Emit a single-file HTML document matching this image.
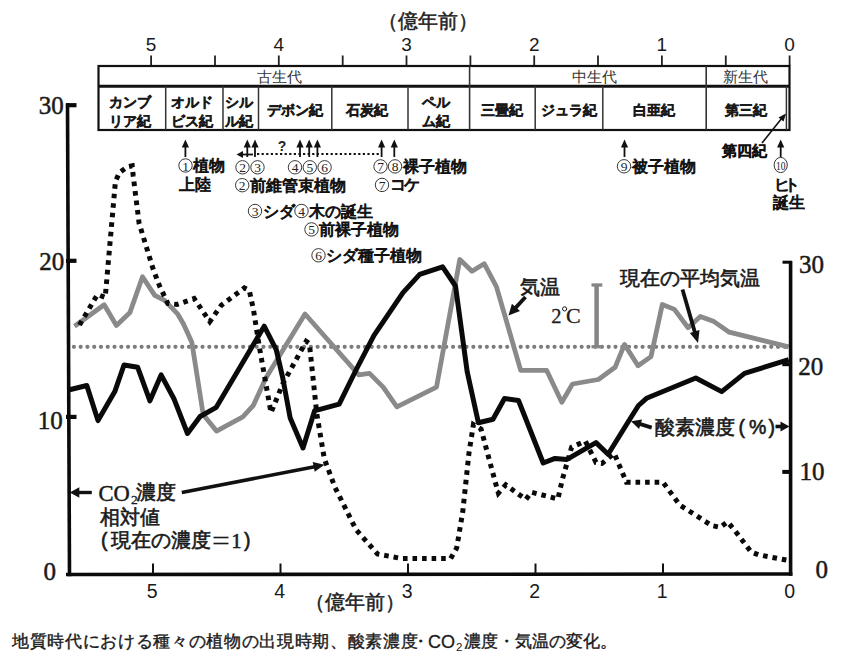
<!DOCTYPE html>
<html><head><meta charset="utf-8"><style>
html,body{margin:0;padding:0;background:#fff;width:852px;height:657px;overflow:hidden}
svg{display:block}
</style></head><body>
<svg width="852" height="657" viewBox="0 0 852 657">
<rect width="852" height="657" fill="#fff"/>
<text x="427.5" y="20.5" font-family="'Liberation Sans',sans-serif" font-size="19.8" text-anchor="middle" dominant-baseline="central" fill="#222" stroke="#222" stroke-width="0.5">（億年前）</text>
<text x="789.6" y="51" font-family="'Liberation Sans',sans-serif" font-size="19" text-anchor="middle" fill="#1a1a1a">0</text>
<text x="661.9" y="51" font-family="'Liberation Sans',sans-serif" font-size="19" text-anchor="middle" fill="#1a1a1a">1</text>
<text x="534.2" y="51" font-family="'Liberation Sans',sans-serif" font-size="19" text-anchor="middle" fill="#1a1a1a">2</text>
<text x="406.5" y="51" font-family="'Liberation Sans',sans-serif" font-size="19" text-anchor="middle" fill="#1a1a1a">3</text>
<text x="278.8" y="51" font-family="'Liberation Sans',sans-serif" font-size="19" text-anchor="middle" fill="#1a1a1a">4</text>
<text x="151.1" y="51" font-family="'Liberation Sans',sans-serif" font-size="19" text-anchor="middle" fill="#1a1a1a">5</text>
<line x1="789.6" y1="55.5" x2="789.6" y2="66" stroke="#222" stroke-width="1.8"/>
<line x1="725.8" y1="55.5" x2="725.8" y2="66" stroke="#222" stroke-width="1.8"/>
<line x1="661.9" y1="55.5" x2="661.9" y2="66" stroke="#222" stroke-width="1.8"/>
<line x1="598.0" y1="55.5" x2="598.0" y2="66" stroke="#222" stroke-width="1.8"/>
<line x1="534.2" y1="55.5" x2="534.2" y2="66" stroke="#222" stroke-width="1.8"/>
<line x1="470.4" y1="55.5" x2="470.4" y2="66" stroke="#222" stroke-width="1.8"/>
<line x1="406.5" y1="55.5" x2="406.5" y2="66" stroke="#222" stroke-width="1.8"/>
<line x1="342.7" y1="55.5" x2="342.7" y2="66" stroke="#222" stroke-width="1.8"/>
<line x1="278.8" y1="55.5" x2="278.8" y2="66" stroke="#222" stroke-width="1.8"/>
<line x1="215.0" y1="55.5" x2="215.0" y2="66" stroke="#222" stroke-width="1.8"/>
<line x1="151.1" y1="55.5" x2="151.1" y2="66" stroke="#222" stroke-width="1.8"/>
<rect x="98.5" y="66" width="691" height="64" fill="none" stroke="#111" stroke-width="2.2"/>
<line x1="98" y1="86.2" x2="790" y2="86.2" stroke="#111" stroke-width="3"/>
<line x1="469.6" y1="66" x2="469.6" y2="130" stroke="#333" stroke-width="1.6"/>
<line x1="706.2" y1="66" x2="706.2" y2="130" stroke="#333" stroke-width="1.6"/>
<line x1="165.7" y1="86" x2="165.7" y2="130" stroke="#333" stroke-width="1.5"/>
<line x1="223" y1="86" x2="223" y2="130" stroke="#333" stroke-width="1.5"/>
<line x1="258.5" y1="86" x2="258.5" y2="130" stroke="#333" stroke-width="1.5"/>
<line x1="331.8" y1="86" x2="331.8" y2="130" stroke="#333" stroke-width="1.5"/>
<line x1="408" y1="86" x2="408" y2="130" stroke="#333" stroke-width="1.5"/>
<line x1="535.2" y1="86" x2="535.2" y2="130" stroke="#333" stroke-width="1.5"/>
<line x1="602.8" y1="86" x2="602.8" y2="130" stroke="#333" stroke-width="1.5"/>
<line x1="786.4" y1="86" x2="786.4" y2="130" stroke="#333" stroke-width="1.5"/>
<text x="279" y="76.8" font-family="'Liberation Sans',sans-serif" font-size="15" text-anchor="middle" dominant-baseline="central" fill="#333">古生代</text>
<text x="594" y="76.8" font-family="'Liberation Sans',sans-serif" font-size="15" text-anchor="middle" dominant-baseline="central" fill="#333">中生代</text>
<text x="745.6" y="76.8" font-family="'Liberation Sans',sans-serif" font-size="15" text-anchor="middle" dominant-baseline="central" fill="#333">新生代</text>
<text x="130.3" y="102.5" font-family="'Liberation Sans',sans-serif" font-size="13.5" text-anchor="middle" dominant-baseline="central" fill="#1a1a1a" stroke="#1a1a1a" stroke-width="1.1">カンブ</text>
<text x="130.3" y="121.5" font-family="'Liberation Sans',sans-serif" font-size="13.5" text-anchor="middle" dominant-baseline="central" fill="#1a1a1a" stroke="#1a1a1a" stroke-width="1.1">リア紀</text>
<text x="191.6" y="102.5" font-family="'Liberation Sans',sans-serif" font-size="13.5" text-anchor="middle" dominant-baseline="central" fill="#1a1a1a" stroke="#1a1a1a" stroke-width="1.1">オルド</text>
<text x="191.6" y="121.5" font-family="'Liberation Sans',sans-serif" font-size="13.5" text-anchor="middle" dominant-baseline="central" fill="#1a1a1a" stroke="#1a1a1a" stroke-width="1.1">ビス紀</text>
<text x="239.2" y="102.5" font-family="'Liberation Sans',sans-serif" font-size="13.5" text-anchor="middle" dominant-baseline="central" fill="#1a1a1a" stroke="#1a1a1a" stroke-width="1.1">シル</text>
<text x="239.2" y="121.5" font-family="'Liberation Sans',sans-serif" font-size="13.5" text-anchor="middle" dominant-baseline="central" fill="#1a1a1a" stroke="#1a1a1a" stroke-width="1.1">ル紀</text>
<text x="435.5" y="102.5" font-family="'Liberation Sans',sans-serif" font-size="13.5" text-anchor="middle" dominant-baseline="central" fill="#1a1a1a" stroke="#1a1a1a" stroke-width="1.1">ペル</text>
<text x="435.5" y="121.5" font-family="'Liberation Sans',sans-serif" font-size="13.5" text-anchor="middle" dominant-baseline="central" fill="#1a1a1a" stroke="#1a1a1a" stroke-width="1.1">ム紀</text>
<text x="295" y="110.3" font-family="'Liberation Sans',sans-serif" font-size="14" text-anchor="middle" dominant-baseline="central" fill="#1a1a1a" stroke="#1a1a1a" stroke-width="1.1">デボン紀</text>
<text x="366.5" y="110.3" font-family="'Liberation Sans',sans-serif" font-size="14" text-anchor="middle" dominant-baseline="central" fill="#1a1a1a" stroke="#1a1a1a" stroke-width="1.1">石炭紀</text>
<text x="502" y="110.3" font-family="'Liberation Sans',sans-serif" font-size="14" text-anchor="middle" dominant-baseline="central" fill="#1a1a1a" stroke="#1a1a1a" stroke-width="1.1">三畳紀</text>
<text x="569" y="110.3" font-family="'Liberation Sans',sans-serif" font-size="14" text-anchor="middle" dominant-baseline="central" fill="#1a1a1a" stroke="#1a1a1a" stroke-width="1.1">ジュラ紀</text>
<text x="654.4" y="110.3" font-family="'Liberation Sans',sans-serif" font-size="14" text-anchor="middle" dominant-baseline="central" fill="#1a1a1a" stroke="#1a1a1a" stroke-width="1.1">白亜紀</text>
<text x="746" y="110.3" font-family="'Liberation Sans',sans-serif" font-size="14" text-anchor="middle" dominant-baseline="central" fill="#1a1a1a" stroke="#1a1a1a" stroke-width="1.1">第三紀</text>
<line x1="185.4" y1="157" x2="185.4" y2="144.5" stroke="#111" stroke-width="1.8"/>
<path d="M181.8,147.5 L185.4,139.5 L189.0,147.5 Z" fill="#111"/>
<line x1="247.3" y1="157" x2="247.3" y2="144.5" stroke="#111" stroke-width="1.8"/>
<path d="M243.70000000000002,147.5 L247.3,139.5 L250.9,147.5 Z" fill="#111"/>
<line x1="255" y1="157" x2="255" y2="144.5" stroke="#111" stroke-width="1.8"/>
<path d="M251.4,147.5 L255,139.5 L258.6,147.5 Z" fill="#111"/>
<line x1="300" y1="157" x2="300" y2="144.5" stroke="#111" stroke-width="1.8"/>
<path d="M296.4,147.5 L300,139.5 L303.6,147.5 Z" fill="#111"/>
<line x1="309.2" y1="157" x2="309.2" y2="144.5" stroke="#111" stroke-width="1.8"/>
<path d="M305.59999999999997,147.5 L309.2,139.5 L312.8,147.5 Z" fill="#111"/>
<line x1="317.4" y1="157" x2="317.4" y2="144.5" stroke="#111" stroke-width="1.8"/>
<path d="M313.79999999999995,147.5 L317.4,139.5 L321.0,147.5 Z" fill="#111"/>
<line x1="381.6" y1="157" x2="381.6" y2="144.5" stroke="#111" stroke-width="1.8"/>
<path d="M378.0,147.5 L381.6,139.5 L385.20000000000005,147.5 Z" fill="#111"/>
<line x1="394.3" y1="157" x2="394.3" y2="144.5" stroke="#111" stroke-width="1.8"/>
<path d="M390.7,147.5 L394.3,139.5 L397.90000000000003,147.5 Z" fill="#111"/>
<line x1="624.5" y1="157" x2="624.5" y2="144.5" stroke="#111" stroke-width="1.8"/>
<path d="M620.9,147.5 L624.5,139.5 L628.1,147.5 Z" fill="#111"/>
<line x1="780.7" y1="157" x2="780.7" y2="144.5" stroke="#111" stroke-width="1.8"/>
<path d="M777.1,147.5 L780.7,139.5 L784.3000000000001,147.5 Z" fill="#111"/>
<line x1="240" y1="154.5" x2="253" y2="154.5" stroke="#111" stroke-width="1.8"/>
<path d="M236.5,154.5 L243,151 L243,158 Z" fill="#111"/>
<line x1="257" y1="154" x2="381" y2="154" stroke="#111" stroke-width="2.2" stroke-dasharray="2.2 2.4"/>
<text x="282" y="146" font-family="'Liberation Sans',sans-serif" font-size="14" font-weight="bold" text-anchor="middle" dominant-baseline="central" fill="#222">?</text>
<circle cx="185.5" cy="165.5" r="6.7" fill="none" stroke="#222" stroke-width="0.9"/>
<text x="185.5" y="166.0" font-family="'Liberation Serif',serif" font-size="13.5" text-anchor="middle" dominant-baseline="central" fill="#222">1</text>
<text x="193" y="165.5" font-family="'Liberation Sans',sans-serif" font-size="15.5" dominant-baseline="central" fill="#111" stroke="#111" stroke-width="0.9">植物</text>
<text x="178.6" y="184.5" font-family="'Liberation Sans',sans-serif" font-size="15.5" dominant-baseline="central" fill="#111" stroke="#111" stroke-width="0.9">上陸</text>
<circle cx="242.5" cy="167.3" r="6.7" fill="none" stroke="#222" stroke-width="0.9"/>
<text x="242.5" y="167.8" font-family="'Liberation Serif',serif" font-size="13.5" text-anchor="middle" dominant-baseline="central" fill="#222">2</text>
<circle cx="257.5" cy="167.3" r="6.7" fill="none" stroke="#222" stroke-width="0.9"/>
<text x="257.5" y="167.8" font-family="'Liberation Serif',serif" font-size="13.5" text-anchor="middle" dominant-baseline="central" fill="#222">3</text>
<circle cx="295" cy="167.3" r="6.7" fill="none" stroke="#222" stroke-width="0.9"/>
<text x="295" y="167.8" font-family="'Liberation Serif',serif" font-size="13.5" text-anchor="middle" dominant-baseline="central" fill="#222">4</text>
<circle cx="309.8" cy="167.3" r="6.7" fill="none" stroke="#222" stroke-width="0.9"/>
<text x="309.8" y="167.8" font-family="'Liberation Serif',serif" font-size="13.5" text-anchor="middle" dominant-baseline="central" fill="#222">5</text>
<circle cx="324.6" cy="167.3" r="6.7" fill="none" stroke="#222" stroke-width="0.9"/>
<text x="324.6" y="167.8" font-family="'Liberation Serif',serif" font-size="13.5" text-anchor="middle" dominant-baseline="central" fill="#222">6</text>
<circle cx="242.2" cy="185.2" r="6.7" fill="none" stroke="#222" stroke-width="0.9"/>
<text x="242.2" y="185.7" font-family="'Liberation Serif',serif" font-size="13.5" text-anchor="middle" dominant-baseline="central" fill="#222">2</text>
<text x="250" y="185.2" font-family="'Liberation Sans',sans-serif" font-size="15.5" dominant-baseline="central" fill="#111" stroke="#111" stroke-width="0.9">前維管束植物</text>
<circle cx="255" cy="211" r="6.7" fill="none" stroke="#222" stroke-width="0.9"/>
<text x="255" y="211.5" font-family="'Liberation Serif',serif" font-size="13.5" text-anchor="middle" dominant-baseline="central" fill="#222">3</text>
<text x="262.5" y="211" font-family="'Liberation Sans',sans-serif" font-size="15.5" dominant-baseline="central" fill="#111" stroke="#111" stroke-width="0.9">シダ</text>
<circle cx="301.5" cy="211" r="6.7" fill="none" stroke="#222" stroke-width="0.9"/>
<text x="301.5" y="211.5" font-family="'Liberation Serif',serif" font-size="13.5" text-anchor="middle" dominant-baseline="central" fill="#222">4</text>
<text x="309" y="211" font-family="'Liberation Sans',sans-serif" font-size="15.5" dominant-baseline="central" fill="#111" stroke="#111" stroke-width="0.9">木の誕生</text>
<circle cx="311.5" cy="229.4" r="6.7" fill="none" stroke="#222" stroke-width="0.9"/>
<text x="311.5" y="229.9" font-family="'Liberation Serif',serif" font-size="13.5" text-anchor="middle" dominant-baseline="central" fill="#222">5</text>
<text x="319" y="229.4" font-family="'Liberation Sans',sans-serif" font-size="15.5" dominant-baseline="central" fill="#111" stroke="#111" stroke-width="0.9">前裸子植物</text>
<circle cx="318.5" cy="255.3" r="6.7" fill="none" stroke="#222" stroke-width="0.9"/>
<text x="318.5" y="255.8" font-family="'Liberation Serif',serif" font-size="13.5" text-anchor="middle" dominant-baseline="central" fill="#222">6</text>
<text x="326" y="255.3" font-family="'Liberation Sans',sans-serif" font-size="15.5" dominant-baseline="central" fill="#111" stroke="#111" stroke-width="0.9">シダ種子植物</text>
<circle cx="380.5" cy="166.4" r="6.7" fill="none" stroke="#222" stroke-width="0.9"/>
<text x="380.5" y="166.9" font-family="'Liberation Serif',serif" font-size="13.5" text-anchor="middle" dominant-baseline="central" fill="#222">7</text>
<circle cx="395" cy="166.4" r="6.7" fill="none" stroke="#222" stroke-width="0.9"/>
<text x="395" y="166.9" font-family="'Liberation Serif',serif" font-size="13.5" text-anchor="middle" dominant-baseline="central" fill="#222">8</text>
<text x="402.5" y="166.4" font-family="'Liberation Sans',sans-serif" font-size="15.5" dominant-baseline="central" fill="#111" stroke="#111" stroke-width="0.9">裸子植物</text>
<circle cx="382" cy="184.9" r="6.7" fill="none" stroke="#222" stroke-width="0.9"/>
<text x="382" y="185.4" font-family="'Liberation Serif',serif" font-size="13.5" text-anchor="middle" dominant-baseline="central" fill="#222">7</text>
<text x="389.5" y="184.9" font-family="'Liberation Sans',sans-serif" font-size="15.5" dominant-baseline="central" fill="#111" stroke="#111" stroke-width="0.9" letter-spacing="-1.5">コケ</text>
<circle cx="624" cy="166.3" r="6.7" fill="none" stroke="#222" stroke-width="0.9"/>
<text x="624" y="166.8" font-family="'Liberation Serif',serif" font-size="13.5" text-anchor="middle" dominant-baseline="central" fill="#222">9</text>
<text x="631.5" y="166.3" font-family="'Liberation Sans',sans-serif" font-size="15.5" dominant-baseline="central" fill="#111" stroke="#111" stroke-width="0.9">被子植物</text>
<text x="744.6" y="150.8" font-family="'Liberation Sans',sans-serif" font-size="14.5" text-anchor="middle" dominant-baseline="central" fill="#111" stroke="#111" stroke-width="1.1">第四紀</text>
<ellipse cx="780.7" cy="165" rx="6.6" ry="7.6" fill="none" stroke="#222" stroke-width="0.9"/>
<text x="780.7" y="165.5" font-family="'Liberation Serif',serif" font-size="12.5" text-anchor="middle" dominant-baseline="central" fill="#222" textLength="9.5" lengthAdjust="spacingAndGlyphs">10</text>
<text x="773.5" y="184.4" font-family="'Liberation Sans',sans-serif" font-size="15.5" dominant-baseline="central" fill="#111" stroke="#111" stroke-width="0.9" letter-spacing="-5.5">ヒト</text>
<text x="773" y="202.5" font-family="'Liberation Sans',sans-serif" font-size="15.5" dominant-baseline="central" fill="#111" stroke="#111" stroke-width="0.9">誕生</text>
<line x1="762" y1="143" x2="782" y2="118" stroke="#111" stroke-width="1.6"/>
<path d="M786,113.5 L778.5,117.5 L783.5,121.5 Z" fill="#111"/>
<line x1="73.9" y1="346.8" x2="790" y2="346.8" stroke="#7c7c7c" stroke-width="4.2" stroke-linecap="round" stroke-dasharray="0 6.77"/>
<line x1="596.6" y1="285" x2="596.6" y2="347" stroke="#858585" stroke-width="4.5"/>
<line x1="591.5" y1="285" x2="602.3" y2="285" stroke="#858585" stroke-width="3.3"/>
<line x1="591.5" y1="346.7" x2="602.3" y2="346.7" stroke="#858585" stroke-width="3.3"/>
<polyline points="74.5,326.2 104.2,304.8 116.4,325.5 130.0,312.4 142.5,276.8 154.8,295.3 164.6,300.3 177.8,314.2 183.5,324.0 191.8,342.2 203.2,414.5 216.5,431.1 242.8,416.9 253.4,405.3 265.9,378.0 305.0,314.0 358.8,374.9 369.5,373.4 383.2,387.1 396.9,406.9 436.5,387.1 459.8,259.5 472.0,271.3 484.2,263.7 496.4,286.6 520.7,370.3 546.6,370.3 561.8,402.3 572.5,384.0 598.4,379.5 615.1,367.3 624.5,344.4 638.0,365.7 651.0,356.6 662.3,304.5 674.4,309.4 688.1,327.7 700.3,316.4 714.0,321.6 729.3,332.2 788.7,346.9" fill="none" stroke="#8a8a8a" stroke-width="4.8" stroke-linejoin="round"/>
<polyline points="79.5,325.0 97.5,294.5 105.2,297.5 115.4,181.6 119.3,172.7 127.2,166.8 132.2,165.8 133.2,175.7 139.1,223.2 153.1,269.0 159.7,286.3 167.9,303.5 177.0,304.4 194.2,298.6 209.8,321.6 221.3,305.2 244.3,287.9 249.3,290.4 253.4,309.3 259.3,346.7 271.0,412.7 282.7,384.0 306.2,341.3 309.4,343.5 316.8,413.8 324.3,458.6 334.8,487.0 356.1,529.7 377.5,554.0 401.8,558.6 450.6,558.6 456.7,548.0 462.8,511.4 468.9,453.5 473.4,424.6 481.1,429.2 494.8,480.4 498.4,493.2 505.8,484.9 525.8,499.5 531.3,492.2 557.9,499.0 562.4,479.2 571.6,447.2 585.3,441.1 596.0,462.4 602.0,463.4 614.2,453.3 626.4,482.2 663.0,482.2 679.7,505.0 711.9,525.6 720.1,527.4 727.4,521.9 733.8,529.2 751.2,552.0 758.5,554.8 787.7,560.3" fill="none" stroke="#0a0a0a" stroke-width="5" stroke-dasharray="4.6 4.95" stroke-linejoin="miter"/>
<polyline points="68.5,390.0 86.8,385.5 98.0,420.6 114.8,391.6 124.0,365.0 137.7,367.3 149.9,400.8 161.1,374.9 174.2,399.3 187.5,433.5 200.1,416.5 216.3,407.3 264.2,326.2 276.3,349.9 282.7,377.6 290.2,418.1 303.0,447.9 314.7,410.6 319.0,409.6 339.2,404.2 355.5,371.0 374.0,335.3 403.0,292.6 419.7,274.4 442.6,266.8 455.5,286.0 467.2,371.8 478.4,422.8 493.0,419.2 504.5,398.5 518.5,400.5 543.2,463.0 555.0,458.4 567.0,459.4 596.0,442.6 608.1,454.2 631.5,416.5 638.5,405.5 646.5,398.3 695.8,378.0 721.7,391.6 744.5,373.4 788.7,359.7" fill="none" stroke="#0a0a0a" stroke-width="5" stroke-linejoin="round"/>
<line x1="67.5" y1="103.5" x2="69.5" y2="576.3" stroke="#0a0a0a" stroke-width="3.6"/>
<line x1="66" y1="574.5" x2="792.4" y2="574.0" stroke="#0a0a0a" stroke-width="3.6"/>
<line x1="790.6" y1="261" x2="790.6" y2="575.8" stroke="#0a0a0a" stroke-width="3.6"/>
<line x1="66" y1="105.2" x2="76.5" y2="105.2" stroke="#0a0a0a" stroke-width="4.2"/>
<line x1="66" y1="260.8" x2="76.5" y2="260.8" stroke="#0a0a0a" stroke-width="4.2"/>
<line x1="66" y1="416.9" x2="76.5" y2="416.9" stroke="#0a0a0a" stroke-width="4.2"/>
<line x1="782.5" y1="262.2" x2="792" y2="262.2" stroke="#0a0a0a" stroke-width="3"/>
<line x1="782.3" y1="364.2" x2="790" y2="364.2" stroke="#0a0a0a" stroke-width="4"/>
<line x1="782.3" y1="471.9" x2="790" y2="471.9" stroke="#0a0a0a" stroke-width="4"/>
<line x1="790.5" y1="563.5" x2="790.5" y2="574" stroke="#111" stroke-width="2"/>
<text x="789.7" y="598" font-family="'Liberation Sans',sans-serif" font-size="19.5" text-anchor="middle" fill="#1a1a1a">0</text>
<line x1="663.0" y1="563.5" x2="663.0" y2="574" stroke="#111" stroke-width="2"/>
<text x="662.2" y="598" font-family="'Liberation Sans',sans-serif" font-size="19.5" text-anchor="middle" fill="#1a1a1a">1</text>
<line x1="535.5" y1="563.5" x2="535.5" y2="574" stroke="#111" stroke-width="2"/>
<text x="534.7" y="598" font-family="'Liberation Sans',sans-serif" font-size="19.5" text-anchor="middle" fill="#1a1a1a">2</text>
<line x1="408.0" y1="563.5" x2="408.0" y2="574" stroke="#111" stroke-width="2"/>
<text x="407.2" y="598" font-family="'Liberation Sans',sans-serif" font-size="19.5" text-anchor="middle" fill="#1a1a1a">3</text>
<line x1="280.5" y1="563.5" x2="280.5" y2="574" stroke="#111" stroke-width="2"/>
<text x="279.7" y="598" font-family="'Liberation Sans',sans-serif" font-size="19.5" text-anchor="middle" fill="#1a1a1a">4</text>
<line x1="153.0" y1="563.5" x2="153.0" y2="574" stroke="#111" stroke-width="2"/>
<text x="152.2" y="598" font-family="'Liberation Sans',sans-serif" font-size="19.5" text-anchor="middle" fill="#1a1a1a">5</text>
<text x="63.8" y="113.6" font-family="'Liberation Serif',serif" font-size="25" text-anchor="end" fill="#1a1a1a" stroke="#1a1a1a" stroke-width="0.5">30</text>
<text x="64.3" y="270.4" font-family="'Liberation Serif',serif" font-size="25" text-anchor="end" fill="#1a1a1a" stroke="#1a1a1a" stroke-width="0.5">20</text>
<text x="62.8" y="428.6" font-family="'Liberation Serif',serif" font-size="25" text-anchor="end" fill="#1a1a1a" stroke="#1a1a1a" stroke-width="0.5">10</text>
<text x="56" y="579.7" font-family="'Liberation Serif',serif" font-size="25" text-anchor="end" fill="#1a1a1a" stroke="#1a1a1a" stroke-width="0.5">0</text>
<text x="799" y="272.8" font-family="'Liberation Serif',serif" font-size="25" text-anchor="start" fill="#1a1a1a" stroke="#1a1a1a" stroke-width="0.5">30</text>
<text x="798.2" y="374.9" font-family="'Liberation Serif',serif" font-size="25" text-anchor="start" fill="#1a1a1a" stroke="#1a1a1a" stroke-width="0.5">20</text>
<text x="799.5" y="480.4" font-family="'Liberation Serif',serif" font-size="25" text-anchor="start" fill="#1a1a1a" stroke="#1a1a1a" stroke-width="0.5">10</text>
<text x="815.5" y="577.6" font-family="'Liberation Serif',serif" font-size="25" text-anchor="start" fill="#1a1a1a" stroke="#1a1a1a" stroke-width="0.5">0</text>
<text x="519.8" y="286.6" font-family="'Liberation Sans',sans-serif" font-size="19.5" dominant-baseline="central" fill="#1a1a1a" stroke="#1a1a1a" stroke-width="0.6">気温</text>
<line x1="525.5" y1="297.0" x2="515.3" y2="308.1" stroke="#111" stroke-width="3.8"/>
<path d="M508.5,315.5 L511.9,303.7 L520.0,311.1 Z" fill="#111"/>
<text x="551.3" y="322.8" font-family="'Liberation Serif',serif" font-size="20.5" fill="#1a1a1a" stroke="#1a1a1a" stroke-width="0.3">2</text>
<circle cx="564.6" cy="308.9" r="2.1" fill="none" stroke="#1a1a1a" stroke-width="1"/>
<text x="566" y="322.8" font-family="'Liberation Serif',serif" font-size="22" fill="#1a1a1a" stroke="#1a1a1a" stroke-width="0.3">C</text>
<text x="619.6" y="278" font-family="'Liberation Sans',sans-serif" font-size="19.5" dominant-baseline="central" fill="#1a1a1a" stroke="#1a1a1a" stroke-width="0.6">現在の平均気温</text>
<line x1="682.5" y1="289.5" x2="694.9" y2="332.4" stroke="#111" stroke-width="3.8"/>
<path d="M698.0,343.0 L689.9,332.9 L699.5,330.1 Z" fill="#111"/>
<text x="654.6" y="426.7" font-family="'Liberation Sans',sans-serif" font-size="19.5" dominant-baseline="central" fill="#1a1a1a" stroke="#1a1a1a" stroke-width="0.6">酸素濃度</text>
<text x="738.4" y="426.7" font-family="'Liberation Sans',sans-serif" font-size="19.5" dominant-baseline="central" fill="#1a1a1a" stroke="#1a1a1a" stroke-width="0.6">(</text>
<text x="749" y="426.7" font-family="'Liberation Sans',sans-serif" font-size="19.5" dominant-baseline="central" fill="#1a1a1a" stroke="#1a1a1a" stroke-width="0.6">%</text>
<text x="768.5" y="426.7" font-family="'Liberation Sans',sans-serif" font-size="19.5" dominant-baseline="central" fill="#1a1a1a" stroke="#1a1a1a" stroke-width="0.6">)</text>
<line x1="651.7" y1="427.6" x2="639.6" y2="423.9" stroke="#111" stroke-width="3.8"/>
<path d="M631.0,421.3 L642.0,419.4 L639.1,429.0 Z" fill="#111"/>
<line x1="775.5" y1="426.5" x2="781.5" y2="426.5" stroke="#111" stroke-width="3.6"/>
<path d="M789.5,426.5 L780.5,431.5 L780.5,421.5 Z" fill="#111"/>
<text x="98.5" y="500.5" font-family="'Liberation Serif',serif" font-size="22.5" fill="#1a1a1a" stroke="#1a1a1a" stroke-width="0.5">CO</text>
<text x="131" y="504" font-family="'Liberation Serif',serif" font-size="13.5" fill="#1a1a1a" stroke="#1a1a1a" stroke-width="0.3">2</text>
<text x="136" y="491.5" font-family="'Liberation Sans',sans-serif" font-size="19.5" dominant-baseline="central" fill="#1a1a1a" stroke="#1a1a1a" stroke-width="0.6">濃度</text>
<text x="99.6" y="516.5" font-family="'Liberation Sans',sans-serif" font-size="19.5" dominant-baseline="central" fill="#1a1a1a" stroke="#1a1a1a" stroke-width="0.6">相対値</text>
<text x="101" y="540.3" font-family="'Liberation Sans',sans-serif" font-size="19.5" dominant-baseline="central" fill="#1a1a1a" stroke="#1a1a1a" stroke-width="0.6">(</text>
<text x="110.5" y="540.3" font-family="'Liberation Sans',sans-serif" font-size="19.5" dominant-baseline="central" fill="#1a1a1a" stroke="#1a1a1a" stroke-width="0.6">現在の濃度</text>
<line x1="213.5" y1="537.5" x2="228.5" y2="537.5" stroke="#1a1a1a" stroke-width="1.6"/>
<line x1="213.5" y1="543.5" x2="228.5" y2="543.5" stroke="#1a1a1a" stroke-width="1.6"/>
<text x="236.5" y="547.5" font-family="'Liberation Serif',serif" font-size="20" text-anchor="middle" fill="#1a1a1a" stroke="#1a1a1a" stroke-width="0.6">1</text>
<text x="244" y="540.3" font-family="'Liberation Sans',sans-serif" font-size="19.5" dominant-baseline="central" fill="#1a1a1a" stroke="#1a1a1a" stroke-width="0.6">)</text>
<line x1="91.8" y1="492.5" x2="78.3" y2="492.5" stroke="#111" stroke-width="3.4"/>
<path d="M69.8,492.5 L79.3,487.3 L79.3,497.7 Z" fill="#111"/>
<line x1="181.8" y1="492.5" x2="314.7" y2="466.7" stroke="#111" stroke-width="3.5"/>
<path d="M324.5,464.8 L314.7,471.8 L312.7,462.0 Z" fill="#111"/>
<text x="354.8" y="602.3" font-family="'Liberation Sans',sans-serif" font-size="20.3" text-anchor="middle" dominant-baseline="central" fill="#222" stroke="#222" stroke-width="0.5">（億年前）</text>
<text x="12" y="641" font-family="'Liberation Sans',sans-serif" font-size="17" dominant-baseline="central" fill="#1a1a1a" stroke="#1a1a1a" stroke-width="0.4" letter-spacing="0.66">地質時代における種々の植物の出現時期、酸素濃度</text>
<text x="420.5" y="641" font-family="'Liberation Sans',sans-serif" font-size="17" dominant-baseline="central" fill="#1a1a1a" stroke="#1a1a1a" stroke-width="0.4" text-anchor="middle">・</text>
<text x="463.7" y="641" font-family="'Liberation Sans',sans-serif" font-size="17" dominant-baseline="central" fill="#1a1a1a" stroke="#1a1a1a" stroke-width="0.4" letter-spacing="0">濃度・気温の変化。</text>
<text x="428" y="648" font-family="'Liberation Sans',sans-serif" font-size="18" fill="#1a1a1a" stroke="#1a1a1a" stroke-width="0.3">CO</text>
<text x="456" y="651" font-family="'Liberation Sans',sans-serif" font-size="11.5" fill="#1a1a1a">2</text>
</svg></body></html>
